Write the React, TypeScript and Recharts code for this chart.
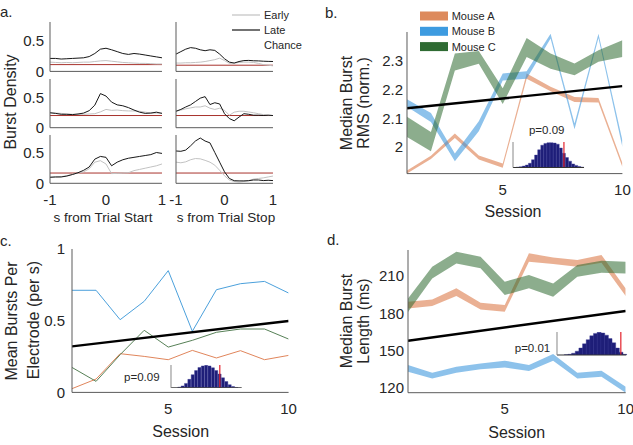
import React from 'react';
import {
  LineChart,
  Line,
  ComposedChart,
  Area,
  BarChart,
  Bar,
  XAxis,
  YAxis,
  ReferenceLine,
} from 'recharts';

const FONT = '"Liberation Sans", Arial, Helvetica, sans-serif';
const INK = '#262626';
const AXIS = '#5a5a5a';

// ---- panel a: burst density around trial start / stop ----
const trialTime = [-1, -0.9, -0.8, -0.7, -0.6, -0.5, -0.4, -0.3, -0.2, -0.1, 0, 0.1, 0.2, 0.3, 0.4, 0.5, 0.6, 0.7, 0.8, 0.9, 1];

const startLate = [
  [0.21, 0.21, 0.2, 0.205, 0.21, 0.215, 0.22, 0.24, 0.29, 0.36, 0.375, 0.35, 0.32, 0.29, 0.275, 0.29, 0.28, 0.265, 0.25, 0.235, 0.22],
  [0.245, 0.235, 0.22, 0.22, 0.215, 0.225, 0.24, 0.28, 0.37, 0.56, 0.52, 0.42, 0.375, 0.36, 0.33, 0.29, 0.255, 0.235, 0.24, 0.255, 0.235],
  [0.1, 0.105, 0.105, 0.12, 0.145, 0.175, 0.215, 0.27, 0.4, 0.445, 0.43, 0.29, 0.35, 0.39, 0.415, 0.43, 0.445, 0.46, 0.475, 0.51, 0.495],
];
const startEarly = [
  [0.15, 0.145, 0.14, 0.145, 0.14, 0.145, 0.15, 0.15, 0.16, 0.17, 0.175, 0.165, 0.155, 0.145, 0.14, 0.135, 0.13, 0.13, 0.125, 0.12, 0.12],
  [0.245, 0.24, 0.235, 0.225, 0.22, 0.22, 0.22, 0.225, 0.23, 0.26, 0.3, 0.285, 0.29, 0.28, 0.275, 0.275, 0.27, 0.255, 0.24, 0.24, 0.24],
  [0.1, 0.105, 0.11, 0.125, 0.15, 0.17, 0.19, 0.24, 0.35, 0.375, 0.32, 0.16, 0.165, 0.17, 0.175, 0.21, 0.23, 0.25, 0.27, 0.29, 0.32],
];
const startChance = [0.11, 0.2, 0.17];

const stopLate = [
  [0.28, 0.32, 0.36, 0.385, 0.375, 0.35, 0.335, 0.35, 0.34, 0.28, 0.205, 0.15, 0.135, 0.16, 0.175, 0.178, 0.172, 0.17, 0.165, 0.162, 0.16],
  [0.27, 0.3, 0.34, 0.375, 0.43, 0.485, 0.51, 0.38, 0.41, 0.39, 0.23, 0.15, 0.113, 0.175, 0.23, 0.22, 0.205, 0.205, 0.2, 0.205, 0.2],
  [0.535, 0.53, 0.55, 0.62, 0.7, 0.75, 0.7, 0.67, 0.51, 0.35, 0.19, 0.08, 0.043, 0.04, 0.04, 0.043, 0.055, 0.055, 0.045, 0.05, 0.045],
];
const stopEarly = [
  [0.135, 0.135, 0.14, 0.14, 0.145, 0.15, 0.16, 0.175, 0.19, 0.215, 0.175, 0.13, 0.135, 0.145, 0.15, 0.15, 0.145, 0.13, 0.11, 0.1, 0.09],
  [0.27, 0.29, 0.31, 0.325, 0.34, 0.34, 0.36, 0.32, 0.3, 0.32, 0.285, 0.205, 0.255, 0.27, 0.27, 0.258, 0.245, 0.23, 0.215, 0.205, 0.2],
  [0.35, 0.34, 0.355, 0.39, 0.41, 0.405, 0.38, 0.35, 0.3, 0.215, 0.125, 0.055, 0.03, 0.02, 0.03, 0.045, 0.07, 0.08, 0.09, 0.105, 0.12],
];
const stopChance = [0.1, 0.2, 0.17];

// ---- panels b-d: per-session values ----
const sessions = [1, 2, 3, 4, 5, 6, 7, 8, 9, 10];
const fitSessions = [1, 10];

const rmsALo = [1.907, 1.958, 2.031, 1.956, 1.927, 2.238, 2.194, 2.157, 2.155, 1.93];
const rmsAHi = [1.918, 1.969, 2.047, 1.97, 1.942, 2.256, 2.21, 2.174, 2.171, 1.944];
const rmsBLo = [2.14, 2.087, 1.95, 2.055, 2.232, 2.238, 2.378, 2.062, 2.38, 2.0];
const rmsBHi = [2.166, 2.118, 1.977, 2.09, 2.256, 2.264, 2.395, 2.082, 2.395, 2.023];
const rmsCLo = [2.035, 1.985, 2.267, 2.29, 2.15, 2.314, 2.273, 2.25, 2.297, 2.314];
const rmsCHi = [2.105, 2.052, 2.326, 2.335, 2.205, 2.38, 2.326, 2.291, 2.337, 2.372];
const rmsFit = [2.135, 2.212];

const rateA = [0.026, 0.093, 0.27, 0.251, 0.228, 0.293, 0.24, 0.291, 0.228, 0.258];
const rateB = [0.712, 0.712, 0.507, 0.635, 0.849, 0.426, 0.716, 0.758, 0.774, 0.693];
const rateC = [0.174, 0.077, 0.263, 0.433, 0.316, 0.363, 0.419, 0.442, 0.442, 0.372];
const rateFit = [0.321, 0.498];

const lenALo = [183.9, 185.8, 193.9, 183.1, 181.3, 221.5, 219.7, 217.5, 220.7, 193.9];
const lenAHi = [189.3, 191.2, 200.1, 188.5, 186.6, 228.3, 225.0, 222.9, 226.9, 200.0];
const lenBLo = [132.9, 127.5, 132.0, 134.8, 136.4, 133.4, 141.8, 127.5, 128.9, 116.0];
const lenBHi = [138.3, 132.1, 136.9, 139.6, 141.8, 138.3, 147.1, 132.1, 133.7, 120.8];
const lenCLo = [181.0, 208.1, 220.2, 216.2, 194.7, 200.1, 193.3, 209.5, 212.7, 212.1];
const lenCHi = [192.0, 217.5, 229.6, 225.6, 205.4, 210.8, 204.1, 218.9, 222.4, 221.5];
const lenFit = [157.9, 181.8];

// shuffled-slope null distributions (counts per bin) and observed bin
const histRms = [0, 1, 2, 4, 7, 12, 22, 35, 50, 63, 68, 70, 70, 69, 66, 55, 40, 28, 18, 10, 6, 3, 1];
const histRate = [0, 0, 2, 6, 14, 27, 42, 55, 65, 70, 72, 70, 64, 55, 44, 32, 20, 10, 4, 1, 0];
const histLen = [0, 0, 1, 2, 5, 11, 20, 32, 44, 55, 62, 65, 63, 57, 47, 35, 20, 8, 2];
const observedBins = [16, 14, 17];

const mouseNames = ['Mouse A', 'Mouse B', 'Mouse C'];
const bandColors = ['#d9703a', '#2f8fdb', '#2d6a30'];
const legendColors = ['#dd8a5c', '#3d9be0', '#2f6b33'];
const lineColors = ['#e0855a', '#4aa0db', '#557f55'];

const TOP = 10;

function place(x0: number, y0: number, x1: number, y1: number, yw: number, xh: number) {
  return {
    style: { position: 'absolute' as const, left: x0 - yw, top: y0 - TOP },
    width: x1 - x0 + yw + 14,
    height: y1 - y0 + TOP + xh,
    margin: { top: TOP, right: 14, left: 0, bottom: 0 },
  };
}

const tickFont = (size: number) => ({ fontSize: size, fill: INK, fontFamily: FONT });

function DensityPlot({ box, late, early, chance, leftLabels, bottomLabels }: any) {
  const yw = leftLabels ? 34 : 14;
  const xh = bottomLabels ? 26 : 10;
  const p = place(box.x0, box.y0, box.x1, box.y1, yw, xh);
  const data = trialTime.map((t, i) => ({ t, late: late[i], early: early[i] }));
  return (
    <div style={p.style}>
      <LineChart width={p.width} height={p.height} data={data} margin={p.margin}>
        <XAxis
          dataKey="t"
          type="number"
          domain={[-1, 1]}
          ticks={[-1, 0, 1]}
          interval={0}
          tickSize={0}
          tickMargin={11}
          tick={bottomLabels ? tickFont(15) : false}
          axisLine={{ stroke: AXIS }}
          height={xh}
          allowDataOverflow
        />
        <YAxis
          type="number"
          domain={[0, 0.8]}
          ticks={[0, 0.5]}
          interval={0}
          tickSize={0}
          tickMargin={6}
          tick={leftLabels ? tickFont(15) : false}
          axisLine={{ stroke: AXIS }}
          width={yw}
          allowDataOverflow
        />
        <ReferenceLine y={chance} stroke="#a8322c" strokeWidth={1} />
        <Line dataKey="early" stroke="#c2c2c2" strokeWidth={1} dot={false} isAnimationActive={false} />
        <Line dataKey="late" stroke="#161616" strokeWidth={1} dot={false} isAnimationActive={false} />
      </LineChart>
    </div>
  );
}

function fitAt(s: number, fit: number[]) {
  const j = fitSessions.indexOf(s);
  return j >= 0 ? fit[j] : null;
}

function BandPlot({ box, lo, hi, fit, domain, ticks, fontSize, tickMargin }: any) {
  const yw = 44;
  const xh = 26;
  const p = place(box.x0, box.y0, box.x1, box.y1, yw, xh);
  const data = sessions.map((s, i) => ({
    s,
    A: [lo[0][i], hi[0][i]],
    B: [lo[1][i], hi[1][i]],
    C: [lo[2][i], hi[2][i]],
    fit: fitAt(s, fit),
  }));
  return (
    <div style={p.style}>
      <ComposedChart width={p.width} height={p.height} data={data} margin={p.margin}>
        <XAxis
          dataKey="s"
          type="number"
          domain={[1, 10]}
          ticks={[5, 10]}
          interval={0}
          tickSize={0}
          tickMargin={11}
          tick={tickFont(fontSize)}
          axisLine={{ stroke: AXIS }}
          height={xh}
          allowDataOverflow
        />
        <YAxis
          type="number"
          domain={domain}
          ticks={ticks}
          interval={0}
          tickSize={0}
          tickMargin={tickMargin}
          tick={tickFont(fontSize)}
          axisLine={{ stroke: AXIS }}
          width={yw}
          allowDataOverflow
        />
        {['A', 'B', 'C'].map((k, i) => (
          <Area
            key={k}
            dataKey={k}
            type="linear"
            stroke="none"
            fill={bandColors[i]}
            fillOpacity={0.55}
            isAnimationActive={false}
          />
        ))}
        <Line dataKey="fit" stroke="#000" strokeWidth={2.4} dot={false} connectNulls isAnimationActive={false} />
      </ComposedChart>
    </div>
  );
}

function RatePlot({ box }: any) {
  const yw = 44;
  const xh = 26;
  const p = place(box.x0, box.y0, box.x1, box.y1, yw, xh);
  const data = sessions.map((s, i) => ({ s, A: rateA[i], B: rateB[i], C: rateC[i], fit: fitAt(s, rateFit) }));
  return (
    <div style={p.style}>
      <LineChart width={p.width} height={p.height} data={data} margin={p.margin}>
        <XAxis
          dataKey="s"
          type="number"
          domain={[1, 10]}
          ticks={[5, 10]}
          interval={0}
          tickSize={0}
          tickMargin={11}
          tick={tickFont(15)}
          axisLine={{ stroke: AXIS }}
          height={xh}
          allowDataOverflow
        />
        <YAxis
          type="number"
          domain={[0, 1]}
          ticks={[0, 0.5, 1]}
          interval={0}
          tickSize={0}
          tickMargin={7}
          tick={tickFont(15)}
          axisLine={{ stroke: AXIS }}
          width={yw}
          allowDataOverflow
        />
        {['A', 'B', 'C'].map((k, i) => (
          <Line key={k} dataKey={k} stroke={lineColors[i]} strokeWidth={1} dot={false} isAnimationActive={false} />
        ))}
        <Line dataKey="fit" stroke="#000" strokeWidth={2.4} dot={false} connectNulls isAnimationActive={false} />
      </LineChart>
    </div>
  );
}

function Histogram({ box, counts, observed, top }: any) {
  const p = place(box.x0, box.y0, box.x1, box.y1, 1, 1);
  const data = counts.map((n: number, bin: number) => ({ bin, n }));
  return (
    <div style={p.style}>
      <BarChart width={p.width} height={p.height} data={data} margin={p.margin} barCategoryGap={0} barGap={0}>
        <XAxis dataKey="bin" tick={false} tickLine={false} axisLine={{ stroke: '#333' }} height={1} />
        <YAxis domain={[0, top]} tick={false} tickLine={false} axisLine={{ stroke: '#888' }} width={1} allowDataOverflow />
        <Bar dataKey="n" fill="#1e1e78" stroke="#3a3a96" strokeWidth={0.4} isAnimationActive={false} />
        <ReferenceLine x={observed} stroke="#e3222c" strokeWidth={1.2} />
      </BarChart>
    </div>
  );
}

const cols = [
  { x0: 50, x1: 162 },
  { x0: 175.7, x1: 272.7 },
];
const rows = [
  { y0: 22.3, y1: 71.7 },
  { y0: 79, y1: 127.7 },
  { y0: 135, y1: 183.3 },
];

export default function App() {
  const t = { fill: INK, fontFamily: FONT };
  const rot = (x: number, y: number) => `translate(${x},${y}) rotate(-90)`;
  return (
    <div
      style={{
        position: 'absolute',
        left: 0,
        top: 0,
        width: 633,
        height: 445,
        background: '#fff',
        overflow: 'hidden',
        fontFamily: FONT,
      }}
    >
      {rows.map((r, i) => (
        <React.Fragment key={i}>
          <DensityPlot
            box={{ ...cols[0], ...r }}
            late={startLate[i]}
            early={startEarly[i]}
            chance={startChance[i]}
            leftLabels
            bottomLabels={i === 2}
          />
          <DensityPlot
            box={{ ...cols[1], ...r }}
            late={stopLate[i]}
            early={stopEarly[i]}
            chance={stopChance[i]}
            leftLabels={false}
            bottomLabels={i === 2}
          />
        </React.Fragment>
      ))}

      <BandPlot
        box={{ x0: 407.3, x1: 622.7, y0: 31.7, y1: 173.3 }}
        lo={[rmsALo, rmsBLo, rmsCLo]}
        hi={[rmsAHi, rmsBHi, rmsCHi]}
        fit={rmsFit}
        domain={[1.907, 2.401]}
        ticks={[2, 2.1, 2.2, 2.3]}
        fontSize={15}
        tickMargin={4}
      />
      <RatePlot box={{ x0: 71.7, x1: 288.3, y0: 249.3, y1: 392.7 }} />
      <BandPlot
        box={{ x0: 408.3, x1: 626, y0: 250, y1: 392.7 }}
        lo={[lenALo, lenBLo, lenCLo]}
        hi={[lenAHi, lenBHi, lenCHi]}
        fit={lenFit}
        domain={[116, 231]}
        ticks={[120, 150, 180, 210]}
        fontSize={15}
        tickMargin={4}
      />

      <Histogram box={{ x0: 513.3, x1: 584.3, y0: 142, y1: 167.5 }} counts={histRms} observed={observedBins[0]} top={72} />
      <Histogram box={{ x0: 171, x1: 241.7, y0: 364.5, y1: 387.3 }} counts={histRate} observed={observedBins[1]} top={73} />
      <Histogram box={{ x0: 556.7, x1: 626, y0: 332, y1: 355 }} counts={histLen} observed={observedBins[2]} top={66} />

      <svg width={633} height={445} style={{ position: 'absolute', left: 0, top: 0, pointerEvents: 'none' }}>
        {/* panel a */}
        <text x={0} y={17} fontSize={15} {...t}>a.</text>
        <text transform={rot(10, 102)} textAnchor="middle" dominantBaseline="central" fontSize={16} {...t}>Burst Density</text>
        <line x1={232} y1={15} x2={260} y2={15} stroke="#c2c2c2" strokeWidth={1.2} />
        <line x1={232} y1={30} x2={260} y2={30} stroke="#161616" strokeWidth={1.2} />
        <text x={264} y={15} fontSize={11} dominantBaseline="central" {...t}>Early</text>
        <text x={264} y={30} fontSize={11} dominantBaseline="central" {...t}>Late</text>
        <text x={264} y={45} fontSize={11} dominantBaseline="central" {...t}>Chance</text>
        <text x={103} y={217} fontSize={13.5} textAnchor="middle" dominantBaseline="central" {...t}>s from Trial Start</text>
        <text x={226} y={217} fontSize={13.5} textAnchor="middle" dominantBaseline="central" {...t}>s from Trial Stop</text>

        {/* panel b */}
        <text x={325} y={18} fontSize={15} {...t}>b.</text>
        {mouseNames.map((m, i) => (
          <React.Fragment key={m}>
            <rect x={420} y={11.5 + i * 15.3} width={28} height={9} fill={legendColors[i]} />
            <text x={451.7} y={16 + i * 15.3} fontSize={11} dominantBaseline="central" {...t}>{m}</text>
          </React.Fragment>
        ))}
        <text transform={rot(346.7, 103)} textAnchor="middle" dominantBaseline="central" fontSize={16} {...t}>Median Burst</text>
        <text transform={rot(363.5, 103)} textAnchor="middle" dominantBaseline="central" fontSize={16} {...t}>RMS (norm.)</text>
        <text x={513} y={211} fontSize={16} textAnchor="middle" dominantBaseline="central" {...t}>Session</text>
        <text x={546.7} y={130} fontSize={11.5} textAnchor="middle" dominantBaseline="central" {...t}>p=0.09</text>

        {/* panel c */}
        <text x={0} y={246} fontSize={15} {...t}>c.</text>
        <text transform={rot(11.7, 321)} textAnchor="middle" dominantBaseline="central" fontSize={16} {...t}>Mean Bursts Per</text>
        <text transform={rot(33.3, 320)} textAnchor="middle" dominantBaseline="central" fontSize={16} {...t}>Electrode (per s)</text>
        <text x={180.7} y={431} fontSize={16} textAnchor="middle" dominantBaseline="central" {...t}>Session</text>
        <text x={141.8} y={377.3} fontSize={11.5} textAnchor="middle" dominantBaseline="central" {...t}>p=0.09</text>

        {/* panel d */}
        <text x={327} y={245} fontSize={15} {...t}>d.</text>
        <text transform={rot(346.7, 321)} textAnchor="middle" dominantBaseline="central" fontSize={16} {...t}>Median Burst</text>
        <text transform={rot(363.5, 321)} textAnchor="middle" dominantBaseline="central" fontSize={16} {...t}>Length (ms)</text>
        <text x={516.7} y={432} fontSize={16} textAnchor="middle" dominantBaseline="central" {...t}>Session</text>
        <text x={532.5} y={348.3} fontSize={11.5} textAnchor="middle" dominantBaseline="central" {...t}>p=0.01</text>
      </svg>
    </div>
  );
}
